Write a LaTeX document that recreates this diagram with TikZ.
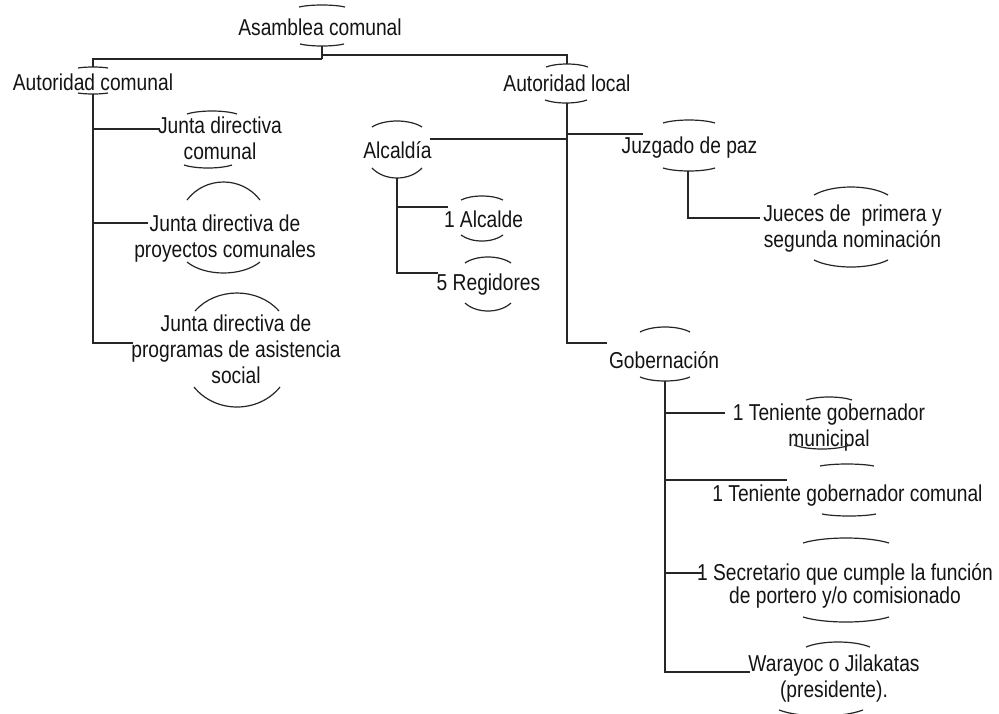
\documentclass[tikz,border=0pt]{standalone}
\usepackage{fontspec}
\setmainfont{Liberation Sans}[FakeStretch=0.835]
\usetikzlibrary{calc}

% a shallow arc above (sag > 0) or below (sag < 0) a label:
% #1 centre x, #2 extreme y, #3 half width, #4 drop of the ends
\newcommand\rimarc[4]{%
  \draw[rim] ({#1-#3},{#2+(#4)}) .. controls ({#1-#3/2},{#2-(#4)/3})
    and ({#1+#3/2},{#2-(#4)/3}) .. ({#1+#3},{#2+(#4)});}

\begin{document}
\begin{tikzpicture}[x=1pt,y=-1pt,
  lbl/.style={inner sep=0pt, outer sep=0pt, align=center, anchor=north,
    text=black!92, font=\fontsize{23}{26}\selectfont,
    execute at begin node=\rule{0pt}{18pt}},
  link/.style={draw=black!85, line width=1.2pt},
  rim/.style={draw=black!85, line width=1.2pt}]

\useasboundingbox[fill=white] (0,0) rectangle (999,713);

% ---------- labels ----------
\node[lbl] (asamblea)  at (320,17)   {Asamblea comunal};
\node[lbl] (acomunal)  at (93,72)    {Autoridad comunal};
\node[lbl] (alocal)    at (567,73)   {Autoridad local};

\node[lbl] (jdc)  at (220,117) {Junta directiva\\comunal};
\node[lbl] (jdp)  at (225,215) {Junta directiva de\\proyectos comunales};
\node[lbl] (jdpr) at (236,315) {Junta directiva de\\programas de asistencia\\social};

\node[lbl] (alcaldia)  at (397.5,140) {Alcaldía};
\node[lbl] (alcalde)   at (483.5,209) {1 Alcalde};
\node[lbl] (regidores) at (488.5,272) {5 Regidores};

\node[lbl] (juzgado) at (689.5,135) {Juzgado de paz};
\node[lbl] (jueces)  at (852.5,205) {Jueces de\ \ primera y\\segunda nominación};

\node[lbl] (gob)   at (664,350)   {Gobernación};
\node[lbl] (tgm)   at (829,404)   {1 Teniente gobernador\\municipal};
\node[lbl] (tgc)   at (847.5,483) {1 Teniente gobernador comunal};
\node[lbl] (secr)  at (845,564)   {1 Secretario que cumple la función\\[-3pt]de portero y/o comisionado};
\node[lbl] (waray) at (834,655)   {Warayoc o Jilakatas\\(presidente).};

% ---------- arcs around the labels ----------
\rimarc{322}{5}{23}{2}       \rimarc{322}{46}{22}{-2}
\rimarc{93}{67}{15}{1}       \rimarc{93}{94}{15}{-1}
\rimarc{567}{64}{21}{3}      \rimarc{566}{103}{21}{-3}
\rimarc{212}{111}{25}{3}     \rimarc{208}{168}{24}{-3}
\rimarc{223.5}{182}{36.5}{18} \rimarc{223.5}{273}{36.5}{-11}
\rimarc{237}{293}{42}{18}    \rimarc{237}{407}{43}{-20}
\rimarc{397}{121}{25}{6}     \rimarc{397}{178}{25}{-10}
\rimarc{482}{196}{21}{4}     \rimarc{482}{241}{21}{-6}
\rimarc{488}{257}{23}{6}     \rimarc{488}{311}{23}{-8}
\rimarc{689}{120}{26}{3}     \rimarc{689}{171}{26}{-3}
\rimarc{851}{187}{37}{8}     \rimarc{851}{267}{37}{-7}
\rimarc{665}{327}{25}{5}     \rimarc{665}{381}{25}{-4}
\rimarc{829}{397}{23}{3}     \rimarc{822}{449}{28}{-4}
\rimarc{847}{464}{27}{2}     \rimarc{849}{516}{27}{-2}
\rimarc{846}{538}{43}{5}     \rimarc{846}{622}{43}{-5}
\rimarc{838}{642}{32}{5}     \rimarc{821}{716}{42}{-6}

% ---------- junction points ----------
\coordinate (asm-foot) at (322,46);
\coordinate (asm-l)    at (322,59);
\coordinate (asm-r)    at (322,55);
\coordinate (ac-top)   at (93,67);
\coordinate (ac-foot)  at (93,94);
\coordinate (al-top)   at (567,64);
\coordinate (al-foot)  at (567,103);

\coordinate (jdc-in)  at (160,129);
\coordinate (jdp-in)  at (148,223);
\coordinate (jdpr-in) at (133,343);

\coordinate (alc-in)  at (430,139);
\coordinate (alc-foot) at (397,178);
\coordinate (alcalde-in)   at (448,207);
\coordinate (regidores-in) at (438,273);

\coordinate (juz-in)   at (643,134);
\coordinate (juz-foot) at (688,171);
\coordinate (jue-in)   at (760,218);

\coordinate (gob-in)   at (607,343);
\coordinate (gob-foot) at (665,381);
\coordinate (tgm-in)   at (725,413);
\coordinate (tgc-in)   at (787,480);
\coordinate (secr-in)  at (703,573);
\coordinate (waray-in) at (750,672);

% ---------- connectors ----------
% top level
\draw[link] (asm-foot) -- (asm-l);
\draw[link] (asm-l) -- (asm-l -| ac-top) -- (ac-top);
\draw[link] (asm-r) -- (asm-r -| al-top) -- (al-top);

% Autoridad comunal
\draw[link] (ac-foot) -- (ac-foot |- jdpr-in) -- (jdpr-in);
\draw[link] (ac-foot |- jdc-in) -- (jdc-in);
\draw[link] (ac-foot |- jdp-in) -- (jdp-in);

% Autoridad local
\draw[link] (al-foot) -- (al-foot |- gob-in) -- (gob-in);
\draw[link] (al-foot |- alc-in) -- (alc-in);
\draw[link] (al-foot |- juz-in) -- (juz-in);

% Alcaldía
\draw[link] (alc-foot) -- (alc-foot |- regidores-in) -- (regidores-in);
\draw[link] (alc-foot |- alcalde-in) -- (alcalde-in);

% Juzgado de paz
\draw[link] (juz-foot) -- (juz-foot |- jue-in) -- (jue-in);

% Gobernación
\draw[link] (gob-foot) -- (gob-foot |- waray-in) -- (waray-in);
\draw[link] (gob-foot |- tgm-in) -- (tgm-in);
\draw[link] (gob-foot |- tgc-in) -- (tgc-in);
\draw[link] (gob-foot |- secr-in) -- (secr-in);

\end{tikzpicture}
\end{document}
